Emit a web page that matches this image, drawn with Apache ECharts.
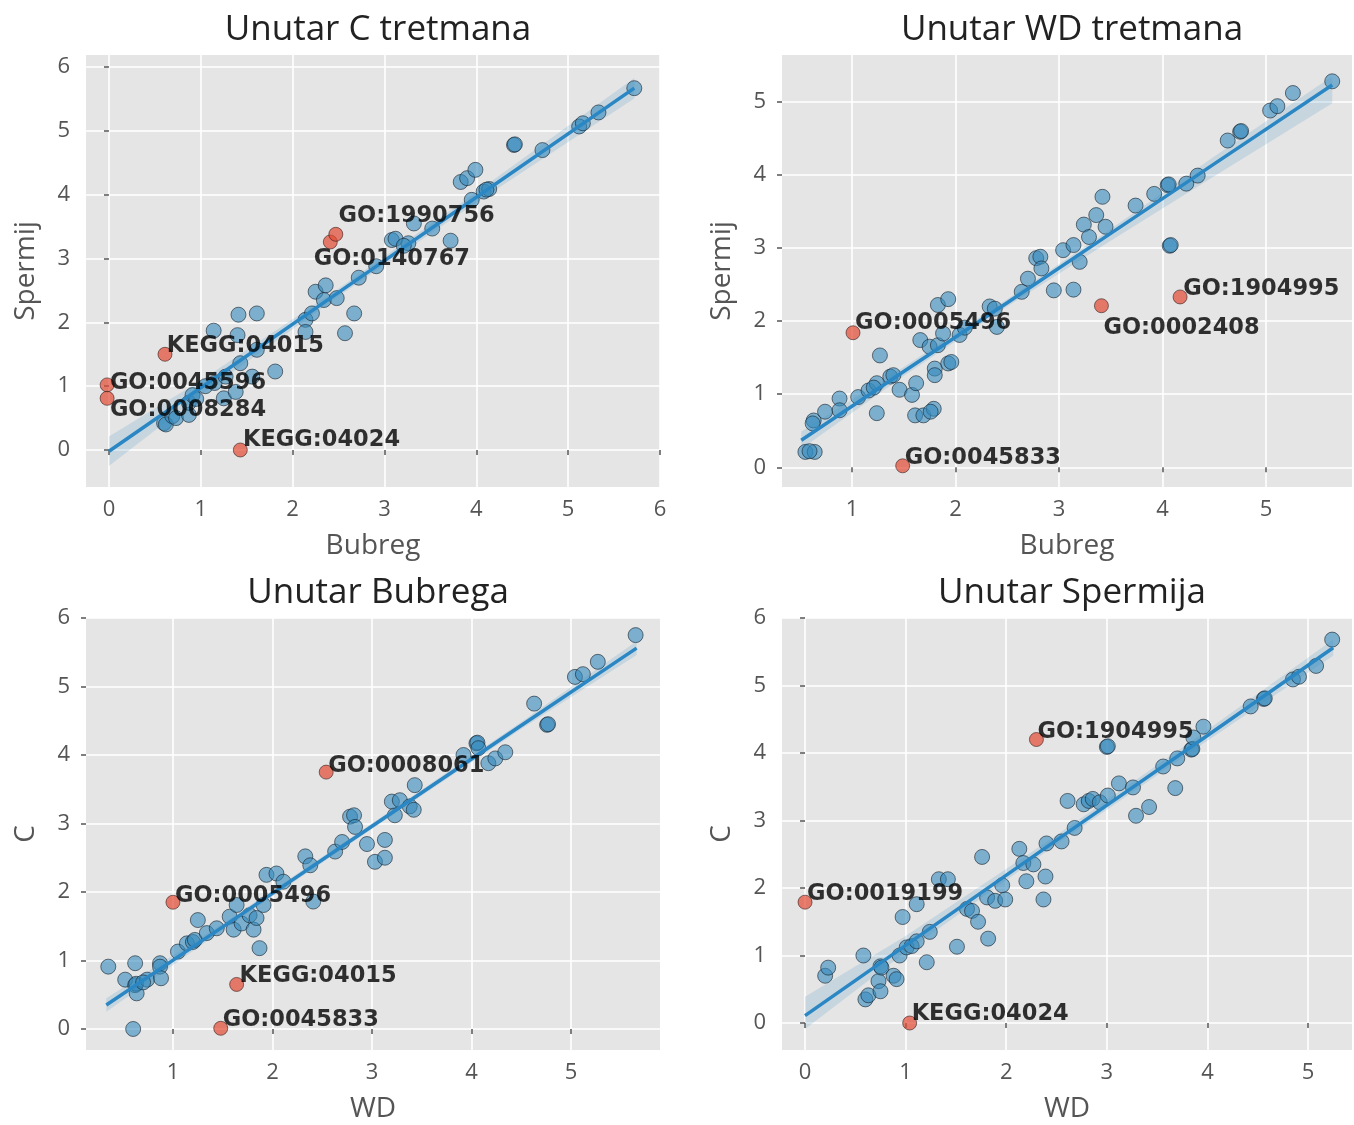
<!DOCTYPE html>
<html>
<head>
<meta charset="utf-8">
<script src="https://cdn.jsdelivr.net/npm/echarts@6/dist/echarts.min.js"></script>
<style>
html,body{margin:0;padding:0;background:#fff;}
#chart{width:1354px;height:1125px;}
</style>
</head>
<body>
<div id="chart"></div>
<script>
// ---------- Panel titles and axis names ----------
const titles = ['Unutar C tretmana', 'Unutar WD tretmana', 'Unutar Bubrega', 'Unutar Spermija'];
const xNames = ['Bubreg', 'Bubreg', 'WD', 'WD'];
const yNames = ['Spermij', 'Spermij', 'C', 'C'];

// ---------- Tick labels ----------
const xTicks = [[0,1,2,3,4,5,6], [1,2,3,4,5], [1,2,3,4,5], [0,1,2,3,4,5]];
const yTicks = [[0,1,2,3,4,5,6], [0,1,2,3,4,5], [0,1,2,3,4,5,6], [0,1,2,3,4,5,6]];

// ---------- Panel 1: Unutar C tretmana ----------
const p1Blue = [[0.60,0.42],[0.62,0.40],[0.69,0.53],[0.73,0.50],[0.87,0.55],[0.87,0.74],[0.91,0.86],[0.95,0.80],
  [1.05,1.00],[1.15,1.05],[1.25,0.81],[1.38,0.91],[1.27,1.15],[1.56,1.15],[1.81,1.23],[1.43,1.36],[1.61,1.57],
  [1.40,1.80],[1.14,1.87],[1.41,2.12],[1.61,2.14],[2.14,2.04],[2.21,2.14],[2.14,1.85],[2.25,2.48],[2.36,2.58],
  [2.34,2.35],[2.48,2.38],[2.67,2.14],[2.57,1.83],[2.72,2.70],[2.91,2.88],[3.08,3.29],[3.12,3.31],[3.26,3.24],
  [3.21,3.20],[3.32,3.55],[3.52,3.47],[3.72,3.28],[3.95,3.92],[3.83,4.20],[3.90,4.26],[3.99,4.39],[4.08,4.05],
  [4.14,4.09],[4.11,4.08],[4.41,4.78],[4.42,4.79],[4.72,4.70],[5.12,5.07],[5.16,5.12],[5.33,5.29],[5.72,5.67]];
const p1Red = [[-0.02,1.02],[-0.02,0.81],[0.61,1.50],[1.43,0.00],[2.41,3.26],[2.47,3.38]];
const p1LabelNames = ['GO:1990756','GO:0140767','KEGG:04015','GO:0045596','GO:0008284','KEGG:04024'];
const p1LabelX = [2.50, 2.23, 0.63, 0.01, 0.01, 1.46];
const p1LabelY = [3.67, 2.99, 1.63, 1.05, 0.63, 0.16];
const p1FitX = [0, 1, 2.5, 4, 5.72];
const p1FitY = [-0.02, 0.975, 2.47, 3.96, 5.67];
const p1BandLo = [-0.25, 0.86, 2.41, 3.88, 5.51];
const p1BandHi = [0.21, 1.09, 2.53, 4.04, 5.83];

// ---------- Panel 2: Unutar WD tretmana ----------
const p2Blue = [[0.55,0.21],[0.64,0.21],[0.59,0.22],[0.63,0.64],[0.62,0.60],[0.74,0.76],[0.88,0.94],[0.88,0.78],
  [1.06,0.96],[1.16,1.05],[1.24,1.15],[1.21,1.09],[1.24,0.74],[1.27,1.53],[1.37,1.24],[1.40,1.26],[1.46,1.06],
  [1.58,0.99],[1.62,1.15],[1.61,0.71],[1.69,0.71],[1.79,0.80],[1.76,0.76],[1.66,1.74],[1.75,1.65],[1.83,1.67],
  [1.88,1.83],[1.80,1.35],[1.80,1.26],[1.93,1.42],[1.96,1.44],[1.83,2.22],[1.93,2.30],[2.04,1.81],[2.09,1.91],
  [2.33,2.20],[2.38,2.17],[2.40,1.92],[2.64,2.40],[2.70,2.58],[2.78,2.86],[2.82,2.88],[2.83,2.72],[2.95,2.42],
  [3.04,2.97],[3.14,3.04],[3.20,2.81],[3.24,3.32],[3.29,3.15],[3.36,3.45],[3.45,3.29],[3.42,3.70],[3.14,2.43],
  [3.74,3.58],[3.92,3.74],[4.05,3.86],[4.06,3.87],[4.23,3.88],[4.34,3.99],[4.07,3.03],[4.08,3.04],[4.63,4.47],
  [4.75,4.59],[4.76,4.60],[5.04,4.88],[5.11,4.94],[5.26,5.12],[5.64,5.28]];
const p2Red = [[1.01,1.84],[1.49,0.02],[3.41,2.21],[4.17,2.33]];
const p2LabelNames = ['GO:0005496','GO:0045833','GO:1904995','GO:0002408'];
const p2LabelX = [1.03, 1.51, 4.20, 3.43];
const p2LabelY = [1.97, 0.12, 2.44, 1.90];
const p2FitX = [0.51, 1.5, 2.5, 3.5, 4.5, 5.64];
const p2FitY = [0.37, 1.31, 2.25, 3.20, 4.15, 5.23];
const p2BandLo = [0.25, 1.25, 2.20, 3.10, 3.98, 4.98];
const p2BandHi = [0.49, 1.37, 2.30, 3.26, 4.25, 5.35];

// ---------- Panel 3: Unutar Bubrega ----------
const p3Blue = [[0.35,0.91],[0.60,0.00],[0.62,0.96],[0.52,0.72],[0.62,0.64],[0.63,0.66],[0.635,0.52],[0.74,0.72],
  [0.70,0.68],[0.87,0.96],[0.87,0.91],[0.88,0.74],[1.05,1.13],[1.14,1.25],[1.20,1.27],[1.22,1.30],[1.25,1.59],
  [1.34,1.40],[1.44,1.47],[1.57,1.64],[1.61,1.45],[1.64,1.81],[1.69,1.54],[1.77,1.66],[1.81,1.45],[1.84,1.62],
  [1.87,1.18],[1.91,1.81],[1.94,2.25],[2.04,2.27],[2.11,2.15],[2.33,2.52],[2.38,2.39],[2.41,1.86],[2.63,2.59],
  [2.70,2.73],[2.78,3.10],[2.82,3.12],[2.83,2.95],[2.95,2.70],[3.03,2.44],[3.13,2.76],[3.13,2.50],[3.23,3.12],
  [3.20,3.32],[3.28,3.34],[3.38,3.25],[3.42,3.20],[3.43,3.56],[3.92,4.00],[4.05,4.17],[4.06,4.18],[4.07,4.10],
  [4.17,3.88],[4.24,3.95],[4.34,4.04],[4.63,4.75],[4.76,4.44],[4.77,4.45],[5.04,5.14],[5.12,5.18],[5.27,5.36],
  [5.65,5.75]];
const p3Red = [[1.00,1.85],[1.64,0.65],[1.48,0.01],[2.54,3.75]];
const p3LabelNames = ['GO:0008061','GO:0005496','KEGG:04015','GO:0045833'];
const p3LabelX = [2.56, 1.02, 1.67, 1.50];
const p3LabelY = [3.84, 1.94, 0.77, 0.13];
const p3FitX = [0.33, 1.5, 3, 4.5, 5.66];
const p3FitY = [0.35, 1.49, 2.96, 4.43, 5.56];
const p3BandLo = [0.25, 1.44, 2.92, 4.38, 5.46];
const p3BandHi = [0.45, 1.54, 3.00, 4.48, 5.66];

// ---------- Panel 4: Unutar Spermija ----------
const p4Blue = [[0.20,0.70],[0.23,0.82],[0.58,1.00],[0.60,0.35],[0.63,0.41],[0.73,0.62],[0.75,0.47],[0.75,0.84],
  [0.76,0.82],[0.88,0.70],[0.91,0.65],[0.94,1.00],[0.97,1.57],[1.01,1.12],[1.06,1.14],[1.11,1.21],[1.11,1.76],
  [1.21,0.90],[1.24,1.35],[1.33,2.13],[1.42,2.13],[1.51,1.13],[1.61,1.69],[1.66,1.66],[1.72,1.50],[1.76,2.46],
  [1.82,1.25],[1.81,1.86],[1.89,1.81],[1.96,2.04],[1.99,1.83],[2.13,2.58],[2.17,2.37],[2.20,2.10],[2.27,2.35],
  [2.39,2.17],[2.37,1.83],[2.40,2.66],[2.55,2.69],[2.61,3.29],[2.68,2.89],[2.77,3.24],[2.82,3.29],[2.86,3.32],
  [2.93,3.27],[3.01,3.37],[3.00,4.09],[3.01,4.10],[3.12,3.55],[3.26,3.49],[3.29,3.07],[3.42,3.20],[3.56,3.80],
  [3.68,3.48],[3.70,3.92],[3.84,4.05],[3.85,4.06],[3.86,4.23],[3.96,4.39],[4.43,4.69],[4.56,4.80],[4.57,4.81],
  [4.85,5.09],[4.91,5.13],[5.08,5.29],[5.24,5.68]];
const p4Red = [[0.00,1.79],[1.04,0.00],[2.30,4.20]];
const p4LabelNames = ['GO:1904995','GO:0019199','KEGG:04024'];
const p4LabelX = [2.31, 0.02, 1.06];
const p4LabelY = [4.31, 1.91, 0.13];
const p4FitX = [0, 1, 2.5, 4, 5.25];
const p4FitY = [0.11, 1.15, 2.71, 4.26, 5.56];
const p4BandLo = [-0.09, 1.05, 2.65, 4.18, 5.44];
const p4BandHi = [0.39, 1.29, 2.78, 4.34, 5.68];

// ---------- Axis ranges ----------
const xMin = [-0.25, 0.324, 0.126, -0.229];
const xMax = [6.0, 5.831, 5.895, 5.437];
const yMin = [-0.58, -0.27, -0.307, -0.40];
const yMax = [6.19, 5.64, 6.0, 6.0];

const panels = [
  {blue:p1Blue, red:p1Red, ln:p1LabelNames, lx:p1LabelX, ly:p1LabelY, fx:p1FitX, fy:p1FitY, lo:p1BandLo, hi:p1BandHi},
  {blue:p2Blue, red:p2Red, ln:p2LabelNames, lx:p2LabelX, ly:p2LabelY, fx:p2FitX, fy:p2FitY, lo:p2BandLo, hi:p2BandHi},
  {blue:p3Blue, red:p3Red, ln:p3LabelNames, lx:p3LabelX, ly:p3LabelY, fx:p3FitX, fy:p3FitY, lo:p3BandLo, hi:p3BandHi},
  {blue:p4Blue, red:p4Red, ln:p4LabelNames, lx:p4LabelX, ly:p4LabelY, fx:p4FitX, fy:p4FitY, lo:p4BandLo, hi:p4BandHi}
];

// ---------- Layout ----------
const gridPos = [
  {left:86, top:55, width:574, height:432},
  {left:782, top:55, width:570, height:432},
  {left:86, top:618, width:574, height:432},
  {left:782, top:618, width:570, height:432}
];

const FONT = '"Open Sans", "Noto Sans", sans-serif';
const grids = [], xAxes = [], yAxes = [], series = [], titleArr = [];

gridPos.forEach((g, i) => {
  grids.push(Object.assign({show:true, backgroundColor:'#E5E5E5', borderWidth:0, containLabel:false}, g));
  titleArr.push({
    text: titles[i], left: g.left + g.width/2, top: g.top - 47, textAlign:'center',
    textStyle:{fontFamily:FONT, fontSize:35, fontWeight:'normal', color:'#222'}
  });
  const common = {
    type:'value', gridIndex:i, nameLocation:'middle',
    minInterval:1, maxInterval:1,
    axisLine:{show:false},
    splitLine:{show:true, lineStyle:{color:'#ffffff', width:1.6}},
    nameTextStyle:{color:'#555', fontFamily:FONT, fontSize:28}
  };
  xAxes.push(Object.assign({}, common, {
    min:xMin[i], max:xMax[i], name:xNames[i], nameGap:45,
    axisTick:{show:true, length:5, lineStyle:{color:'#555', width:1.5}, customValues:xTicks[i]},
    axisLabel:{color:'#555', fontFamily:FONT, fontSize:22, margin:12, customValues:xTicks[i]}
  }));
  yAxes.push(Object.assign({}, common, {
    min:yMin[i], max:yMax[i], name:yNames[i], nameGap:46,
    axisTick:{show:true, length:5, lineStyle:{color:'#555', width:1.5}, customValues:yTicks[i]},
    axisLabel:{color:'#555', fontFamily:FONT, fontSize:22, margin:16, customValues:yTicks[i]}
  }));

  const P = panels[i];
  // confidence band
  series.push({
    type:'custom', xAxisIndex:i, yAxisIndex:i, silent:true, z:2,
    data:[[P.fx[0], P.fy[0]]],
    renderItem:function(params, api){
      const pts = [];
      for (let k=0;k<P.fx.length;k++) pts.push(api.coord([P.fx[k], P.hi[k]]));
      for (let k=P.fx.length-1;k>=0;k--) pts.push(api.coord([P.fx[k], P.lo[k]]));
      return {type:'polygon', shape:{points:pts}, style:{fill:'rgba(52,138,189,0.17)'}};
    }
  });
  // blue points
  series.push({
    type:'scatter', xAxisIndex:i, yAxisIndex:i, z:3, symbolSize:15,
    data:P.blue,
    itemStyle:{color:'rgba(52,138,189,0.74)', borderColor:'rgba(20,30,40,0.75)', borderWidth:1}
  });
  // regression line
  series.push({
    type:'line', xAxisIndex:i, yAxisIndex:i, z:4, symbol:'none', silent:true,
    data:P.fx.map((x,k)=>[x, P.fy[k]]),
    lineStyle:{color:'#2B87C4', width:3.5}
  });
  // red points
  series.push({
    type:'scatter', xAxisIndex:i, yAxisIndex:i, z:5, symbolSize:14,
    data:P.red,
    itemStyle:{color:'rgba(226,74,51,0.88)', borderColor:'rgba(40,20,20,0.7)', borderWidth:1}
  });
  // annotations
  series.push({
    type:'scatter', xAxisIndex:i, yAxisIndex:i, z:6, symbolSize:0, silent:true,
    data:P.ln.map((n,k)=>({name:n, value:[P.lx[k], P.ly[k]]})),
    label:{show:true, position:'right', distance:0, formatter:'{b}',
      fontFamily:'"DejaVu Sans", sans-serif', fontWeight:'bold', fontSize:22.5, color:'#000'}
  });
});

const chart = echarts.init(document.getElementById('chart'), null, {renderer:'canvas'});
chart.setOption({
  animation:false,
  backgroundColor:'#ffffff',
  title:titleArr,
  grid:grids,
  xAxis:xAxes,
  yAxis:yAxes,
  series:series
});
</script>
</body>
</html>
